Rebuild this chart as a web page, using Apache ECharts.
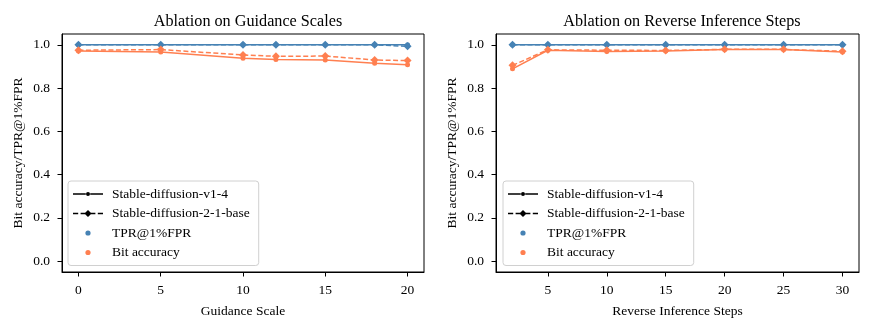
<!DOCTYPE html>
<html>
<head>
<meta charset="utf-8">
<script src="https://cdn.jsdelivr.net/npm/echarts@6/dist/echarts.min.js"></script>
<style>html,body{margin:0;padding:0;background:#fff;}#c{width:871px;height:330px;}</style>
</head>
<body>
<div id="c"></div>
<script>
// ---- data ----
const guidanceScales = [0, 5, 10, 12, 15, 18, 20];
const gsV14Tpr = [1.0, 1.0, 1.0, 1.0, 1.0, 1.0, 1.0];
const gsV21Tpr = [1.0, 1.0, 1.0, 1.0, 1.0, 1.0, 0.993];
const gsV14Bit = [0.971, 0.967, 0.938, 0.932, 0.930, 0.915, 0.908];
const gsV21Bit = [0.975, 0.978, 0.953, 0.947, 0.948, 0.930, 0.927];

const inferenceSteps = [2, 5, 10, 15, 20, 25, 30];
const isV14Tpr = [1.0, 1.0, 1.0, 1.0, 1.0, 1.0, 1.0];
const isV21Tpr = [1.0, 1.0, 1.0, 1.0, 1.0, 1.0, 1.0];
const isV14Bit = [0.889, 0.975, 0.969, 0.971, 0.978, 0.978, 0.967];
const isV21Bit = [0.905, 0.977, 0.975, 0.974, 0.979, 0.979, 0.970];

const yTicks = [0.0, 0.2, 0.4, 0.6, 0.8, 1.0];
const xTicksLeft = [0, 5, 10, 15, 20];
const xTicksRight = [5, 10, 15, 20, 25, 30];

const titles = ['Ablation on Guidance Scales', 'Ablation on Reverse Inference Steps'];
const xNames = ['Guidance Scale', 'Reverse Inference Steps'];
const yName = 'Bit accuracy/TPR@1%FPR';
const legendNames = ['Stable-diffusion-v1-4', 'Stable-diffusion-2-1-base', 'TPR@1%FPR', 'Bit accuracy'];

// ---- styling ----
const FONT = '"Liberation Serif", "DejaVu Serif", serif';
const FS = 13.5;
const BLUE = '#4682B4';
const ORANGE = '#FF7F50';
const DASH = [5, 2.5];

// legend icons (30x10 box)
const BOX = 'M0,0M30,10';
const ICON_SOLID_DOT = 'path://' + BOX +
  'M0,4.25L12.8,4.25L12.8,5.75L0,5.75Z' +
  'M17.2,4.25L30,4.25L30,5.75L17.2,5.75Z' +
  'M13,5A2,2,0,1,1,17,5A2,2,0,1,1,13,5Z';
const ICON_DASH_DIAMOND = 'path://' + BOX +
  'M0,4.25L5.2,4.25L5.2,5.75L0,5.75Z' +
  'M7.6,4.25L12.1,4.25L12.1,5.75L7.6,5.75Z' +
  'M17.9,4.25L22.4,4.25L22.4,5.75L17.9,5.75Z' +
  'M24.8,4.25L30,4.25L30,5.75L24.8,5.75Z' +
  'M15,1.4L18.6,5L15,8.6L11.4,5Z';
const ICON_DOT = 'path://' + BOX +
  'M12.4,5A2.6,2.6,0,1,1,17.6,5A2.6,2.6,0,1,1,12.4,5Z';

function pairs(xs, ys) { return xs.map((x, i) => [x, ys[i]]); }

function xAxis(idx, min, max, ticks, name) {
  return {
    type: 'value', gridIndex: idx, min: min, max: max, name: name,
    nameLocation: 'middle', nameGap: 32,
    nameTextStyle: { fontFamily: FONT, fontSize: FS, color: '#000' },
    axisLine: { show: true, onZero: false, lineStyle: { color: '#000', width: 1 } },
    axisTick: { show: true, length: 4.5, customValues: ticks, lineStyle: { color: '#000' } },
    axisLabel: { show: true, customValues: ticks, margin: 11, fontFamily: FONT, fontSize: FS, color: '#000' },
    splitLine: { show: false }
  };
}
function yAxis(idx) {
  return {
    type: 'value', gridIndex: idx, min: -0.05, max: 1.05, name: yName,
    nameLocation: 'middle', nameGap: 37,
    nameTextStyle: { fontFamily: FONT, fontSize: FS, color: '#000' },
    axisLine: { show: true, onZero: false, lineStyle: { color: '#000', width: 1 } },
    axisTick: { show: true, length: 4.5, customValues: yTicks, lineStyle: { color: '#000' } },
    axisLabel: { show: true, customValues: yTicks, margin: 12, fontFamily: FONT, fontSize: FS, color: '#000',
      formatter: v => Number(v).toFixed(1) },
    splitLine: { show: false }
  };
}
function dataSeries(name, idx, xs, ys, color, dashed) {
  return {
    name: name, type: 'line', xAxisIndex: idx, yAxisIndex: idx,
    data: pairs(xs, ys),
    symbol: dashed ? 'diamond' : 'circle', symbolSize: dashed ? 8 : 5,
    showSymbol: true,
    itemStyle: { color: color },
    lineStyle: { color: color, width: 1.5, type: dashed ? DASH : 'solid' },
    emphasis: { disabled: true }, animation: false, z: dashed ? 3 : 2
  };
}
function legendCfg(left) {
  return {
    data: [
      { name: legendNames[0], icon: ICON_SOLID_DOT },
      { name: legendNames[1], icon: ICON_DASH_DIAMOND },
      { name: legendNames[2], icon: ICON_DOT },
      { name: legendNames[3], icon: ICON_DOT }
    ],
    left: left, top: 181, orient: 'vertical',
    itemWidth: 30, itemHeight: 10, itemGap: 5.5,
    padding: [6, 9, 6, 5],
    itemStyle: { borderWidth: 0 },
    backgroundColor: 'rgba(255,255,255,0.8)', borderColor: '#d0d0d0', borderWidth: 1, borderRadius: 3,
    textStyle: { fontFamily: FONT, fontSize: FS, color: '#000', padding: [0, 0, 0, 4] },
    selectedMode: false
  };
}

const option = {
  backgroundColor: '#fff',
  animation: false,
  title: [
    { text: titles[0], left: 243, top: 9, textAlign: 'center',
      textStyle: { fontFamily: FONT, fontSize: 16.2, fontWeight: 'normal', color: '#000' } },
    { text: titles[1], left: 677, top: 9, textAlign: 'center',
      textStyle: { fontFamily: FONT, fontSize: 16.2, fontWeight: 'normal', color: '#000' } }
  ],
  grid: [
    { left: 62, top: 34, width: 362, height: 238, show: true, borderColor: '#000', borderWidth: 1, backgroundColor: 'transparent' },
    { left: 496, top: 34, width: 363, height: 238, show: true, borderColor: '#000', borderWidth: 1, backgroundColor: 'transparent' }
  ],
  xAxis: [
    xAxis(0, -1, 21, xTicksLeft, xNames[0]),
    xAxis(1, 0.6, 31.4, xTicksRight, xNames[1])
  ],
  yAxis: [yAxis(0), yAxis(1)],
  legend: [legendCfg(68), legendCfg(503)],
  series: [
    dataSeries('gs v1-4 TPR', 0, guidanceScales, gsV14Tpr, BLUE, false),
    dataSeries('gs v2-1 TPR', 0, guidanceScales, gsV21Tpr, BLUE, true),
    dataSeries('gs v1-4 Bit', 0, guidanceScales, gsV14Bit, ORANGE, false),
    dataSeries('gs v2-1 Bit', 0, guidanceScales, gsV21Bit, ORANGE, true),
    dataSeries('is v1-4 TPR', 1, inferenceSteps, isV14Tpr, BLUE, false),
    dataSeries('is v2-1 TPR', 1, inferenceSteps, isV21Tpr, BLUE, true),
    dataSeries('is v1-4 Bit', 1, inferenceSteps, isV14Bit, ORANGE, false),
    dataSeries('is v2-1 Bit', 1, inferenceSteps, isV21Bit, ORANGE, true),
    // legend-only entries
    { name: legendNames[0], type: 'line', data: [], itemStyle: { color: '#000' }, lineStyle: { color: '#000' } },
    { name: legendNames[1], type: 'line', data: [], itemStyle: { color: '#000' }, lineStyle: { color: '#000', type: DASH } },
    { name: legendNames[2], type: 'scatter', data: [], itemStyle: { color: BLUE, opacity: 1 } },
    { name: legendNames[3], type: 'scatter', data: [], itemStyle: { color: ORANGE, opacity: 1 } }
  ]
};

const chart = echarts.init(document.getElementById('c'), null, { renderer: 'canvas' });
chart.setOption(option);
</script>
</body>
</html>
